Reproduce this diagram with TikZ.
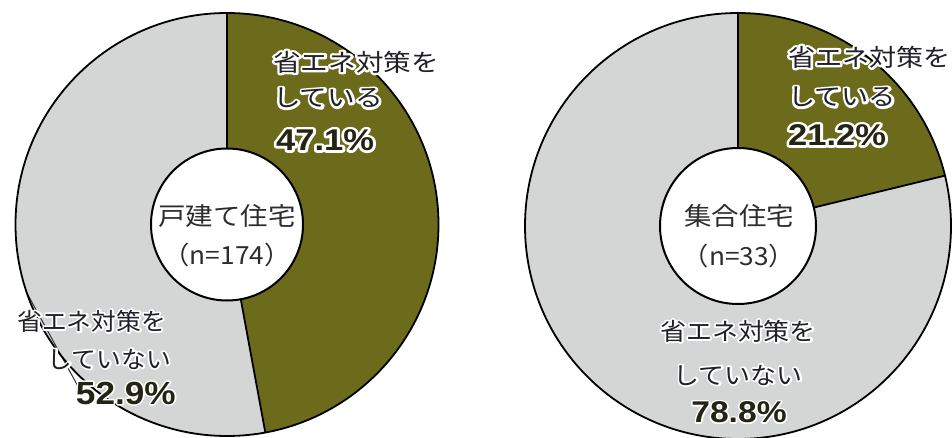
\documentclass[tikz,border=0pt]{standalone}
\usepackage{graphicx}
\usepackage{fontspec}
\newfontfamily\jp{Noto Sans CJK JP}
\newfontfamily\num{Liberation Sans}
\definecolor{olivefill}{RGB}{108,107,28}
\definecolor{grayfill}{RGB}{212,214,214}
\definecolor{labtext}{RGB}{32,32,40}
\definecolor{pcttext}{RGB}{36,36,20}
\definecolor{ctrtext}{RGB}{45,45,45}
% white outline behind a text: one stroked copy (text render mode 1), then the filled text
\newcommand\myhalo[2]{\leavevmode\rlap{\special{pdf:literal direct #1 w 1 j 1 J 1 1 1 RG 1 Tr}#2\special{pdf:literal direct 0 Tr}}#2}
\tikzset{
  lab/.style={inner sep=0pt, text=labtext, font=\jp\fontsize{24}{28}\selectfont},
  pct/.style={inner sep=0pt, text=pcttext, font=\num\bfseries\fontsize{30}{34}\selectfont},
  ctr/.style={inner sep=0pt, text=ctrtext, font=\jp\fontsize{25}{30}\selectfont},
  ring/.style={line width=1.8pt, draw=black},
  divider/.style={line width=1.8pt, draw=black},
  hole/.style={line width=2pt, draw=black, fill=white},
  leader/.style={line width=1pt, draw=black!80},
}
\begin{document}
\begin{tikzpicture}[x=1pt,y=1pt]
\useasboundingbox (0,0) rectangle (952,437);
\fill[white] (0,0) rectangle (952,437);
% ---------------- left chart ----------------
\coordinate (L) at (227,212.5);
\coordinate (Ltop) at ([shift={(90:211.5)}]L);
\coordinate (LtopIn) at ([shift={(90:76)}]L);
\coordinate (Lcut) at ([shift={(-79.56:211.5)}]L);
\coordinate (LcutIn) at ([shift={(-79.56:76)}]L);
\coordinate (Lq) at ([shift={(198.9:211.5)}]L);
\coordinate (Lr) at (80,47);
\fill[grayfill] (L) circle[radius=211.5];
\fill[olivefill] (L) -- (Ltop) arc[start angle=90, end angle=-79.56, radius=211.5] -- cycle;
\draw[leader] (Lq) -- (Lr);
\draw[divider] (LtopIn) -- (Ltop);
\draw[divider] (LcutIn) -- (Lcut);
\draw[ring] (L) circle[radius=211.5];
\draw[hole] (L) circle[radius=76];
% ---------------- right chart ----------------
\coordinate (R) at (738,211);
\coordinate (Rtop) at ([shift={(90:213)}]R);
\coordinate (RtopIn) at ([shift={(90:78)}]R);
\coordinate (Rcut) at ([shift={(13.68:213)}]R);
\coordinate (RcutIn) at ([shift={(13.68:78)}]R);
\fill[grayfill] (R) circle[radius=213];
\fill[olivefill] (R) -- (Rtop) arc[start angle=90, end angle=13.68, radius=213] -- cycle;
\draw[divider] (RtopIn) -- (Rtop);
\draw[divider] (RcutIn) -- (Rcut);
\draw[ring] (R) circle[radius=213];
\draw[hole] (R) circle[radius=78];
% ---------------- left labels ----------------
\node[lab, anchor=west] (Lo1) at (273,375) {\scalebox{1.15}[1]{\myhalo{4.5}{省エネ対策を}}};
\node[lab, anchor=west] (Lo2) at (273,339) {\scalebox{1.15}[1]{\myhalo{4.5}{している}}};
\node[pct, anchor=west] (Lo3) at (276,297) {\scalebox{1.15}[1]{\myhalo{5}{47.1\%}}};
\node[ctr] (Lc1) at (227,221) {\scalebox{1.1}[1]{戸建て住宅}};
\node[ctr] (Lc2) at (227,182) {\scalebox{1.05}[1]{（n=174）}};
\node[lab, anchor=east] (Lg1) at (166,116) {\scalebox{1.03}[1]{\myhalo{3.5}{省エネ対策を}}};
\node[lab, anchor=east] (Lg2) at (171,78) {\scalebox{1.03}[1]{\myhalo{3.5}{していない}}};
\node[pct, anchor=east, font=\num\bfseries\fontsize{32}{36}\selectfont] (Lg3) at (176,44) {\scalebox{1.1}[1]{\myhalo{3}{52.9\%}}};
% ---------------- right labels ----------------
\node[lab, anchor=west] (Ro1) at (788,380) {\scalebox{1.13}[1]{\myhalo{4.5}{省エネ対策を}}};
\node[lab, anchor=west] (Ro2) at (788,340) {\scalebox{1.13}[1]{\myhalo{4.5}{している}}};
\node[pct, anchor=west] (Ro3) at (788,302) {\scalebox{1.15}[1]{\myhalo{5}{21.2\%}}};
\node[ctr] (Rc1) at (739,221) {\scalebox{1.1}[1]{集合住宅}};
\node[ctr] (Rc2) at (739,181) {\scalebox{1.05}[1]{（n=33）}};
\node[lab] (Rg1) at (738,106) {\scalebox{1.08}[1]{\myhalo{3.5}{省エネ対策を}}};
\node[lab] (Rg2) at (738,62) {\scalebox{1.08}[1]{\myhalo{3.5}{していない}}};
\node[pct] (Rg3) at (739,25) {\scalebox{1.12}[1]{\myhalo{3}{78.8\%}}};
\end{tikzpicture}
\end{document}
